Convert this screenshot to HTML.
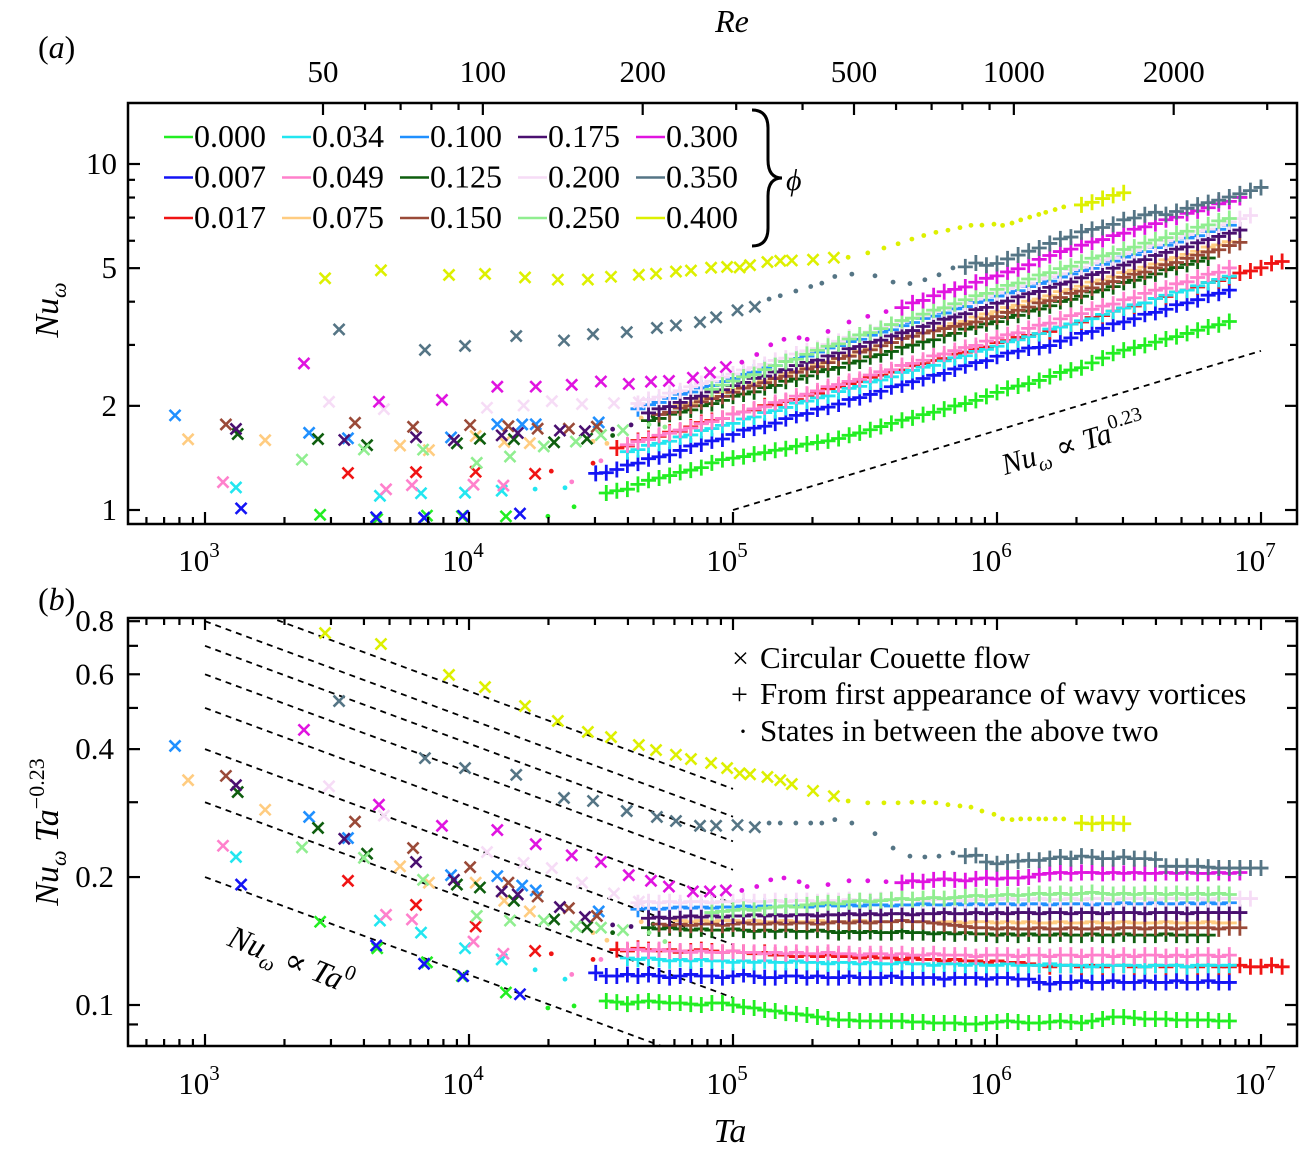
<!DOCTYPE html>
<html><head><meta charset="utf-8"><style>
html,body{margin:0;padding:0;background:#fff;}
svg, svg text{font-family:"Liberation Serif","DejaVu Serif",serif;}
</style></head><body>
<svg id="chart" width="1314" height="1155" viewBox="0 0 1314 1155" xmlns="http://www.w3.org/2000/svg" font-family="Liberation Serif, DejaVu Serif, serif">
<defs>
<clipPath id="clipA"><rect x="128" y="103" width="1169" height="421"/></clipPath>
<clipPath id="clipB"><rect x="128" y="618" width="1169" height="428"/></clipPath>
</defs>
<rect x="0" y="0" width="1314" height="1155" fill="#fff"/>
<text x="38" y="58" font-size="32">(<tspan font-style="italic">a</tspan>)</text>
<text x="38" y="610" font-size="32">(<tspan font-style="italic">b</tspan>)</text>
<text x="732" y="32" font-size="32" font-style="italic" text-anchor="middle">Re</text>
<text x="730" y="1142" font-size="34" font-style="italic" text-anchor="middle">Ta</text>
<text transform="translate(58,310) rotate(-90)" font-size="34" text-anchor="middle"><tspan font-style="italic">Nu</tspan><tspan font-style="italic" font-size="22" dy="8">ω</tspan></text>
<text transform="translate(58,832) rotate(-90)" font-size="34" text-anchor="middle"><tspan font-style="italic">Nu</tspan><tspan font-style="italic" font-size="22" dy="8">ω</tspan><tspan dy="-8"> </tspan><tspan font-style="italic">Ta</tspan><tspan font-size="22" dy="-14">−0.23</tspan></text>
<g id="gA" clip-path="url(#clipA)"></g>
<g id="gB" clip-path="url(#clipB)"></g>
<g id="axes"></g>
<g id="legend"></g>
<path d="M752,110 Q768,110 768,128 L768,160 Q768,178 782,178 Q768,178 768,196 L768,228 Q768,246 752,246" fill="none" stroke="#000" stroke-width="3"/>
<text x="786" y="190" font-size="30" font-style="italic">ϕ</text>
<text transform="translate(1005,475) rotate(-17)" font-size="30"><tspan font-style="italic">Nu</tspan><tspan font-style="italic" font-size="20" dy="7">ω</tspan><tspan dy="-7"> ∝ </tspan><tspan font-style="italic">Ta</tspan><tspan font-size="20" dy="-13">0.23</tspan></text>
<text transform="translate(226,945) rotate(22)" font-size="32"><tspan font-style="italic">Nu</tspan><tspan font-style="italic" font-size="21" dy="8">ω</tspan><tspan dy="-8"> ∝ </tspan><tspan font-style="italic">Ta</tspan><tspan font-size="21" dy="-14">0</tspan></text>
<g>
<text x="732" y="668" font-size="30">×</text>
<text x="760" y="668" font-size="31">Circular Couette flow</text>
<text x="731" y="704" font-size="30">+</text>
<text x="760" y="704" font-size="31">From first appearance of wavy vortices</text>
<text x="738" y="741" font-size="30">·</text>
<text x="760" y="741" font-size="31">States in between the above two</text>
</g>
</svg>
<script>
const phiLabels = ["0.000","0.007","0.017","0.034","0.049","0.075","0.100","0.125","0.150","0.175","0.200","0.250","0.300","0.350","0.400"];
const seriesColors = ["#22ee22","#1414f5","#f01414","#22e6f0","#ff80cc","#ffcc80","#2090ff","#0e5e0e","#9a4a38","#4a1070","#f6dcf6","#90ee90","#e014e0","#557585","#ddf000"];
const couetteTa = [
 [2.73e3,4.49e3,6.93e3,9.4e3,1.38e4],
 [1.37e3,4.45e3,6.76e3,9.5e3,1.56e4],
 [3.48e3,6.3e3,1.06e4,1.78e4],
 [1.31e3,4.6e3,6.58e3,9.66e3,1.33e4],
 [1.17e3,4.85e3,6.08e3,1.04e4,1.35e4],
 [8.63e2,1.69e3,5.48e3,7.05e3,1.06e4,1.36e4,1.7e4],
 [7.7e2,2.48e3,3.48e3,8.55e3,1.28e4,1.59e4,1.79e4,3.1e4],
 [1.33e3,2.68e3,4.11e3,9.0e3,1.1e4,1.48e4,2.1e4,2.8e4],
 [1.2e3,3.7e3,6.14e3,1.01e4,1.41e4,1.82e4,2.39e4,3.05e4],
 [1.31e3,3.37e3,6.3e3,8.77e3,1.33e4,1.53e4,2.21e4,2.75e4],
 [2.95e3,4.76e3,1.17e4,1.61e4,2.06e4,2.68e4,3.54e4,4.4e4],
 [2.33e3,4.0e3,6.7e3,1.07e4,1.43e4,1.92e4,2.54e4,3.16e4,3.83e4],
 [2.37e3,4.56e3,7.9e3,1.28e4,1.79e4,2.45e4,3.16e4,4.03e4,4.89e4,5.72e4,7.05e4,8.18e4,9.4e4],
 [3.22e3,6.81e3,9.66e3,1.51e4,2.29e4,2.95e4,3.96e4,5.15e4,6.08e4,7.5e4,8.63e4,1.04e5,1.21e5],
 [2.85e3,4.64e3,8.4e3,1.15e4,1.63e4,2.17e4,2.82e4,3.45e4,4.4e4,5.11e4,6.08e4,6.93e4,8.26e4,9.5e4,1.06e5,1.16e5,1.35e5,1.51e5,1.67e5,2.01e5,2.41e5]
];
const couetteG = [
 [0.157,0.136,0.126,0.117,0.107],
 [0.192,0.138,0.125,0.117,0.106],
 [0.196,0.172,0.153,0.134],
 [0.223,0.158,0.148,0.136,0.128],
 [0.237,0.163,0.159,0.141,0.132],
 [0.338,0.288,0.212,0.194,0.194,0.176,0.166],
 [0.407,0.277,0.247,0.202,0.201,0.191,0.186,0.166],
 [0.317,0.261,0.227,0.192,0.189,0.176,0.159,0.1525],
 [0.346,0.27,0.234,0.211,0.194,0.18,0.169,0.162],
 [0.329,0.246,0.217,0.197,0.185,0.182,0.170,0.161],
 [0.327,0.279,0.229,0.216,0.210,0.194,0.183,0.175],
 [0.235,0.222,0.197,0.162,0.158,0.158,0.153,0.152,0.150],
 [0.444,0.296,0.264,0.258,0.239,0.225,0.217,0.202,0.196,0.19,0.185,0.185,0.186],
 [0.519,0.381,0.361,0.348,0.307,0.302,0.286,0.277,0.271,0.264,0.264,0.265,0.262],
 [0.75,0.707,0.598,0.56,0.505,0.466,0.439,0.427,0.409,0.398,0.388,0.379,0.371,0.361,0.351,0.349,0.344,0.338,0.331,0.319,0.31]
];
const dotTa = [
 [1.99e4,2.5e4],
 [],
 [2.05e4,2.95e4],
 [1.78e4,2.31e4],
 [2.45e4,3.16e4],
 [2.95e4,3.33e4,4.49e4],
 [],
 [3.5e4,4.98e4],
 [],
 [3.5e4,4.11e4],
 [],
 [4.81e4,5.52e4],
 [1.08e5,1.23e5,1.39e5,1.56e5,1.78e5,1.91e5,2.29e5,2.75e5,3.24e5,3.8e5],
 [1.37e5,1.51e5,1.73e5,1.97e5,2.17e5,2.43e5,2.82e5,3.45e5,4.04e5,4.68e5,5.33e5,6.03e5,6.81e5],
 [2.73e5,3.24e5,3.73e5,4.22e5,4.76e5,5.28e5,5.87e5,6.52e5,7.24e5,7.97e5,8.77e5,9.74e5,1.05e6,1.14e6,1.23e6,1.33e6,1.44e6,1.53e6,1.66e6,1.79e6]
];
const dotG = [
 [0.0984,0.0995],
 [],
 [0.132,0.128],
 [0.121,0.115],
 [0.118,0.128],
 [0.148,0.142,0.157],
 [],
 [0.148,0.155],
 [],
 [0.1543,0.153],
 [],
 [0.148,0.141],
 [0.186,0.19,0.197,0.199,0.195,0.19,0.192,0.196,0.196,0.195],
 [0.268,0.268,0.268,0.268,0.268,0.273,0.268,0.253,0.234,0.224,0.223,0.224,0.228],
 [0.302,0.299,0.299,0.299,0.3,0.3,0.299,0.296,0.294,0.292,0.286,0.281,0.274,0.273,0.274,0.274,0.274,0.274,0.274,0.274]
];
// log10(Ta) sampling grid of the wavy-vortex measurements
const gridLogTaStart = 4.44;
const gridLogTaStep = 0.04;
const plusStart = [2,1,3,4,4,9,5,6,7,6,5,12,30,36,47];
const plusG = [
 [.1022,.1016,.1005,.1016,.1022,.1016,.1011,.1011,.1005,.1,.1011,.1011,.1,.0989,.0984,.0973,.0968,.0957,.0953,.0947,.0937,.0927,.0922,.0922,.0917,.0917,.0917,.0917,.0917,.0912,.0912,.0907,.0907,.0907,.0902,.0902,.0907,.0912,.0917,.0912,.0907,.0907,.0912,.0917,.0912,.0907,.0917,.0927,.0937,.0937,.0932,.0927,.0927,.0927,.0922,.0922,.0922,.0922,.0917,.0917],
 [.119,.117,.117,.118,.117,.118,.117,.116,.117,.118,.117,.117,.116,.117,.118,.117,.116,.116,.117,.117,.116,.117,.116,.116,.117,.116,.116,.116,.117,.116,.116,.116,.116,.115,.116,.116,.116,.115,.116,.116,.115,.115,.113,.112,.113,.113,.114,.113,.113,.114,.113,.113,.114,.113,.113,.114,.113,.113,.114,.113,.113],
 [.135,.134,.136,.135,.134,.135,.133,.134,.135,.134,.133,.134,.133,.132,.133,.131,.131,.130,.131,.130,.131,.130,.130,.129,.130,.129,.129,.128,.129,.128,.128,.127,.128,.127,.127,.126,.127,.126,.126,.125,.124,.123,.124,.124,.123,.124,.123,.124,.124,.123,.123,.124,.123,.124,.123,.123,.124,.123,.123,.124,.123,.123,.124,.123],
 [.129,.128,.129,.128,.127,.128,.127,.128,.127,.127,.126,.127,.126,.127,.126,.126,.127,.126,.126,.125,.126,.126,.125,.126,.125,.125,.126,.125,.125,.124,.125,.125,.124,.125,.124,.124,.125,.124,.124,.124,.125,.124,.124,.124,.123,.124,.124,.124,.124,.123,.124,.124,.124,.123,.124,.124,.124,.124],
 [.135,.135,.134,.135,.134,.134,.133,.134,.133,.133,.134,.133,.133,.132,.133,.132,.133,.132,.132,.133,.132,.132,.131,.132,.132,.131,.132,.131,.131,.132,.131,.131,.131,.130,.131,.131,.131,.130,.131,.131,.130,.131,.131,.130,.131,.131,.130,.131,.130,.131,.131,.130,.131,.130,.131,.131,.130,.131],
 [.158,.157,.158,.157,.158,.158,.157,.158,.157,.157,.158,.157,.157,.158,.157,.157,.157,.158,.157,.157,.157,.158,.157,.157,.156,.157,.157,.156,.157,.157,.156,.157,.156,.157,.156,.156,.157,.156,.156,.157,.156,.156,.157,.156,.156,.156,.157,.156,.156,.156,.157,.156,.156],
 [.168,.169,.168,.169,.170,.169,.170,.169,.170,.170,.171,.170,.171,.170,.171,.171,.170,.171,.172,.171,.172,.171,.172,.172,.171,.172,.172,.173,.172,.172,.173,.172,.173,.172,.173,.173,.172,.173,.173,.172,.173,.173,.173,.172,.173,.173,.174,.173,.173,.174,.173,.173,.174,.173,.174,.173,.174],
 [.152,.151,.152,.151,.150,.151,.150,.150,.151,.150,.149,.150,.149,.150,.149,.149,.150,.149,.148,.149,.148,.149,.148,.148,.149,.148,.148,.147,.148,.147,.148,.147,.147,.146,.147,.146,.147,.146,.146,.147,.146,.146,.147,.146,.146,.147,.146,.146,.146,.147,.146,.146,.146,.146],
 [.155,.154,.155,.154,.155,.155,.154,.155,.156,.155,.155,.156,.155,.156,.156,.155,.156,.157,.156,.157,.156,.157,.157,.158,.157,.157,.156,.155,.154,.153,.152,.152,.151,.152,.151,.151,.152,.151,.151,.152,.151,.151,.152,.151,.152,.152,.151,.152,.152,.151,.152,.152,.152,.151,.152,.152],
 [.160,.161,.160,.161,.162,.161,.162,.161,.162,.162,.163,.162,.163,.162,.163,.163,.162,.163,.163,.164,.163,.164,.163,.164,.164,.163,.164,.164,.165,.164,.164,.165,.164,.165,.164,.165,.165,.164,.165,.165,.164,.165,.165,.164,.165,.165,.165,.164,.165,.165,.165,.164,.165,.165,.165,.165,.165],
 [.174,.175,.174,.175,.174,.175,.175,.174,.175,.175,.176,.175,.175,.176,.175,.176,.176,.175,.176,.176,.177,.176,.176,.177,.176,.177,.177,.176,.177,.177,.177,.176,.177,.177,.177,.178,.177,.177,.178,.177,.177,.178,.177,.178,.178,.177,.178,.178,.178,.177,.178,.178,.178,.178,.177,.178,.178,.178,.178],
 [.165,.166,.167,.168,.167,.169,.170,.171,.170,.172,.173,.174,.173,.175,.176,.175,.176,.177,.178,.177,.178,.179,.178,.179,.180,.181,.180,.181,.182,.181,.182,.183,.182,.183,.182,.183,.184,.183,.182,.183,.182,.183,.183,.182,.183,.182,.183,.182,.183,.182],
 [.194,.196,.195,.197,.198,.197,.196,.198,.199,.198,.199,.199,.200,.203,.204,.205,.204,.205,.205,.204,.205,.204,.205,.204,.204,.205,.204,.205,.204,.204,.205,.204,.205],
 [.224,.225,.217,.215,.217,.218,.219,.219,.221,.223,.221,.224,.223,.221,.221,.223,.221,.221,.220,.212,.212,.212,.212,.211,.210,.210,.210,.210,.210],
 [.268,.267,.268,.268,.267]
];
const guideGa = [0.2,0.3,0.4,0.5,0.6,0.7,0.8,0.93];
const xTickLabels = ["3","4","5","6","7"];
const reTicks = [50,100,200,500,1000,2000];
const reMinor = [60,70,80,90,300,400,600,700,800,900,3000];
const yTicksA = [1,2,5,10];
const yMinorA = [3,4,6,7,8,9];
const yTicksB = [0.1,0.2,0.4,0.6,0.8];
const yMinorB = [0.09,0.3,0.5,0.7];

const NS = "http://www.w3.org/2000/svg";
function xTa(t){ return 205 + 264*(Math.log10(t)-3); }
function yA(nu){ return 510 - 346*Math.log10(nu); }
function yB(g){ return 1005 - 425*(Math.log10(g)+1); }
function xRe(r){ return 323 + 531*Math.log10(r/50); }
function el(tag, parent, attrs){
  const e = document.createElementNS(NS, tag);
  for (const k in attrs) e.setAttribute(k, attrs[k]);
  parent.appendChild(e);
  return e;
}
const gA = document.getElementById('gA');
const gB = document.getElementById('gB');
const axes = document.getElementById('axes');
const legend = document.getElementById('legend');

let gl = el('line', gA, {x1:xTa(1e5), y1:yA(1), x2:xTa(1e7), y2:yA(Math.pow(100,0.23)), stroke:'#000','stroke-width':1.8,'stroke-dasharray':'6 5'});


guideGa.forEach(function(g){
  const l = el('line', gB, {x1:xTa(1e3), y1:yB(g), x2:xTa(1e5), y2:yB(g*Math.pow(100,-0.23)), stroke:'#000','stroke-width':1.8,'stroke-dasharray':'6 5'});
  
  
});

function cross(parent, x, y, c){
  const p = el('path', parent, {d:`M${x-5.5},${y-5.5}L${x+5.5},${y+5.5}M${x-5.5},${y+5.5}L${x+5.5},${y-5.5}`, stroke:c, 'stroke-width':2.6, fill:'none'});
  
  
}
function plus(parent, x, y, c){
  const p = el('path', parent, {d:`M${x-7.5},${y}L${x+7.5},${y}M${x},${y-8}L${x},${y+8}`, stroke:c, 'stroke-width':2.8, fill:'none'});
  
  
}
function dot(parent, x, y, c){
  const p = el('circle', parent, {cx:x, cy:y, r:2.4, fill:c});
  
  
}

for (let s = 0; s < phiLabels.length; s++){
  const c = seriesColors[s];
  const sa = el('g', gA, {});
  
  
  const sb = el('g', gB, {});
  
  
  couetteTa[s].forEach(function(t, i){
    const g = couetteG[s][i];
    const nu = g*Math.pow(t, 0.23);
    cross(sa, xTa(t), yA(nu), c);
    cross(sb, xTa(t), yB(g), c);
  });
  dotTa[s].forEach(function(t, i){
    const g = dotG[s][i];
    const nu = g*Math.pow(t, 0.23);
    dot(sa, xTa(t), yA(nu), c);
    dot(sb, xTa(t), yB(g), c);
  });
  plusG[s].forEach(function(g, i){
    const t = Math.pow(10, gridLogTaStart + gridLogTaStep*(plusStart[s]+i));
    const nu = g*Math.pow(t, 0.23);
    plus(sa, xTa(t), yA(nu), c);
    plus(sb, xTa(t), yB(g), c);
  });
}

[[103,524,'frame-a'],[618,1046,'frame-b']].forEach(function(f){
  const r = el('rect', axes, {x:128, y:f[0], width:1169, height:f[1]-f[0], fill:'none', stroke:'#000', 'stroke-width':2.5});
  
  
});
function tick(x1,y1,x2,y2,name){
  const t = el('line', axes, {x1:x1,y1:y1,x2:x2,y2:y2,stroke:'#000','stroke-width':2.2});
  
  
}
function label(x, y, txt, anchor, name, sup){
  const t = el('text', axes, {x:x, y:y, 'font-size':31, 'text-anchor':anchor});
  t.textContent = txt;
  if (sup){
    const ts = document.createElementNS(NS, 'tspan');
    ts.setAttribute('font-size', '21');
    ts.setAttribute('dy', '-14');
    ts.textContent = sup;
    t.appendChild(ts);
  }
  
  
}
for (let d = 2; d <= 7; d++){
  for (let m = 1; m <= 9; m++){
    const t = m*Math.pow(10, d);
    const x = xTa(t);
    if (x < 130 || x > 1295) continue;
    const L = (m === 1) ? 12 : 7;
    tick(x, 524, x, 524-L, 'x-tick-a');
    tick(x, 1046, x, 1046-L, 'x-tick-b');
    tick(x, 618, x, 618+L, 'x-tick-b-top');
  }
}
xTickLabels.forEach(function(p, i){
  const x = xTa(Math.pow(10, 3+i));
  label(x-6, 571, '10', 'middle', 'x-tick-label-a', p);
  label(x-6, 1094, '10', 'middle', 'x-tick-label-b', p);
});
reTicks.forEach(function(r){
  const x = xRe(r);
  tick(x, 103, x, 115, 're-tick');
  label(x, 82, String(r), 'middle', 're-tick-label');
});
reMinor.forEach(function(r){
  const x = xRe(r);
  if (x < 1295) tick(x, 103, x, 110, 're-minor-tick');
});
yTicksA.forEach(function(v){
  const y = yA(v);
  tick(128, y, 140, y, 'y-tick-a');
  tick(1297, y, 1285, y, 'y-tick-a-right');
  label(117, y+10, String(v), 'end', 'y-tick-label-a');
});
yMinorA.forEach(function(v){
  const y = yA(v);
  tick(128, y, 135, y, 'y-minor-tick-a');
  tick(1297, y, 1290, y, 'y-minor-tick-a-right');
});
yTicksB.forEach(function(v){
  const y = yB(v);
  tick(128, y, 140, y, 'y-tick-b');
  tick(1297, y, 1285, y, 'y-tick-b-right');
  label(114, y+10, String(v), 'end', 'y-tick-label-b');
});
yMinorB.forEach(function(v){
  const y = yB(v);
  tick(128, y, 138, y, 'y-minor-tick-b');
  tick(1297, y, 1287, y, 'y-minor-tick-b-right');
});

for (let s = 0; s < phiLabels.length; s++){
  const col = Math.floor(s/3), row = s%3;
  const x0 = 164 + col*118, y0 = 137 + row*40.5;
  const ln = el('line', legend, {x1:x0, y1:y0, x2:x0+29, y2:y0, stroke:seriesColors[s], 'stroke-width':2.5});
  
  
  const tx = el('text', legend, {x:x0+30, y:y0+10, 'font-size':32});
  tx.textContent = phiLabels[s];
  
  
}
</script>
</body></html>
